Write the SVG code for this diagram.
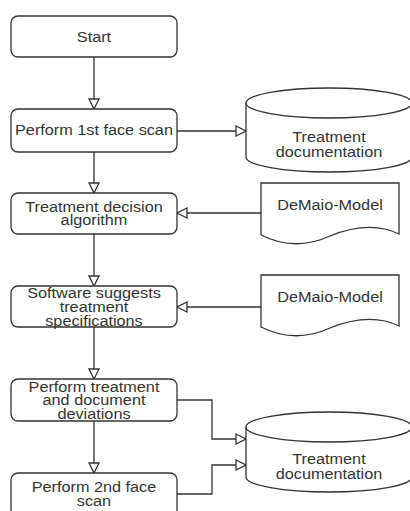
<svg xmlns="http://www.w3.org/2000/svg" width="410" height="511" viewBox="0 0 410 511">
<style>
.box{fill:#fff;stroke:#333;stroke-width:1.3}
.ln{fill:none;stroke:#333;stroke-width:1.3}
text{font-family:"Liberation Sans",Arial,sans-serif;font-size:14px;fill:#333;text-anchor:middle}
</style>
<defs>
<marker id="ah" viewBox="0 0 12 12" refX="11" refY="6" markerWidth="12" markerHeight="12" markerUnits="userSpaceOnUse" orient="auto">
<path d="M1,1 L11,6 L1,11 Z" fill="#fff" stroke="#333" stroke-width="1.3"/>
</marker>
</defs>
<rect width="410" height="511" fill="#fff"/>
<g id="connectors">
<path class="ln" d="M94,57 V109" marker-end="url(#ah)"/>
<path class="ln" d="M94,152 V193" marker-end="url(#ah)"/>
<path class="ln" d="M94,234 V286" marker-end="url(#ah)"/>
<path class="ln" d="M94,327 V379" marker-end="url(#ah)"/>
<path class="ln" d="M94,421 V473" marker-end="url(#ah)"/>
<path class="ln" d="M177,131 H246" marker-end="url(#ah)"/>
<path class="ln" d="M261,213 H177" marker-end="url(#ah)"/>
<path class="ln" d="M261,307 H177" marker-end="url(#ah)"/>
<path class="ln" d="M177,400 H212 V439 H246" marker-end="url(#ah)"/>
<path class="ln" d="M177,494 H212 V465 H246" marker-end="url(#ah)"/>
</g>
<g id="start">
<rect class="box" x="11" y="16" width="166" height="41" rx="7"/>
<text transform="scale(1.16,1)" x="81.03" y="42">Start</text>
</g>
<g id="scan1">
<rect class="box" x="11" y="109" width="166" height="43" rx="7"/>
<text transform="scale(1.16,1)" x="81.03" y="135.5">Perform 1st face scan</text>
</g>
<g id="decision">
<rect class="box" x="11" y="193" width="166" height="41" rx="7"/>
<text transform="scale(1.16,1)" x="81.03" y="212">Treatment decision</text>
<text transform="scale(1.16,1)" x="81.03" y="225.5">algorithm</text>
</g>
<g id="software">
<rect class="box" x="11" y="286" width="166" height="41" rx="7"/>
<text transform="scale(1.16,1)" x="81.03" y="298">Software suggests</text>
<text transform="scale(1.16,1)" x="81.03" y="312">treatment</text>
<text transform="scale(1.16,1)" x="81.03" y="326">specifications</text>
</g>
<g id="treatment">
<rect class="box" x="11" y="379" width="166" height="42" rx="7"/>
<text transform="scale(1.16,1)" x="81.03" y="392">Perform treatment</text>
<text transform="scale(1.16,1)" x="81.03" y="405.5">and document</text>
<text transform="scale(1.16,1)" x="81.03" y="419">deviations</text>
</g>
<g id="scan2">
<rect class="box" x="11" y="473" width="166" height="44" rx="7"/>
<text transform="scale(1.16,1)" x="81.03" y="492">Perform 2nd face</text>
<text transform="scale(1.16,1)" x="81.03" y="506">scan</text>
</g>
<g id="doc1">
<path class="box" d="M246,103 V157 A83,15 0 0 0 412,157 V103"/>
<ellipse class="box" cx="329" cy="103" rx="83" ry="15"/>
<text transform="scale(1.16,1)" x="283.6" y="142">Treatment</text>
<text transform="scale(1.16,1)" x="283.6" y="157">documentation</text>
</g>
<g id="model1">
<path class="box" d="M261,183 H399 V234 Q370,220 330,236 Q295,252 261,235 Z"/>
<text transform="scale(1.16,1)" x="284.5" y="210.5">DeMaio-Model</text>
</g>
<g id="model2">
<path class="box" d="M261,275 H399 V326 Q370,312 330,328 Q295,344 261,327 Z"/>
<text transform="scale(1.16,1)" x="284.5" y="302.5">DeMaio-Model</text>
</g>
<g id="doc2">
<path class="box" d="M246,427 V477 A83,15 0 0 0 412,477 V427"/>
<ellipse class="box" cx="329" cy="427" rx="83" ry="15"/>
<text transform="scale(1.16,1)" x="283.6" y="464">Treatment</text>
<text transform="scale(1.16,1)" x="283.6" y="479">documentation</text>
</g>
</svg>
